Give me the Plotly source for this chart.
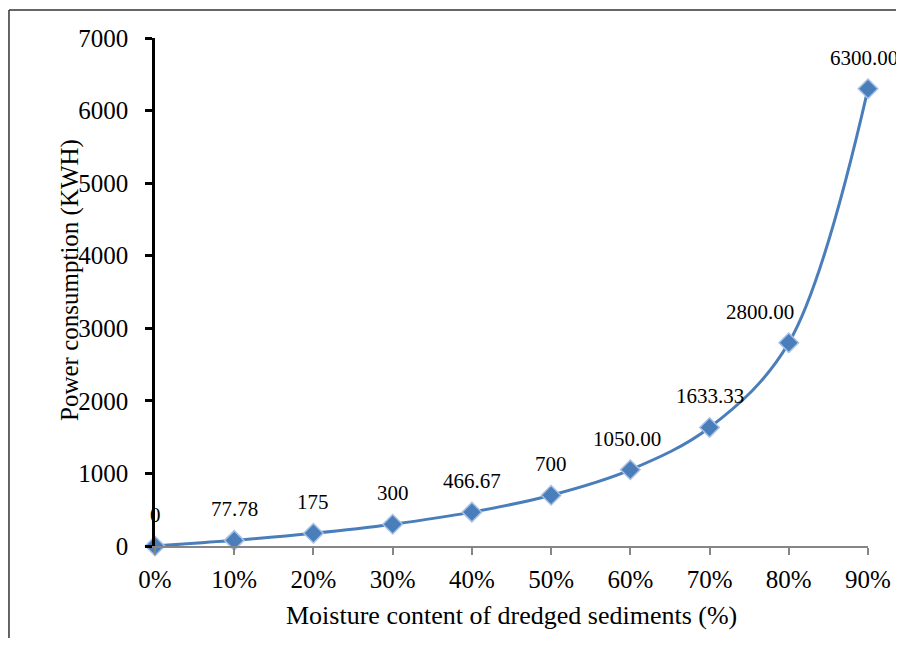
import plotly.graph_objects as go

categories = ["0%", "10%", "20%", "30%", "40%", "50%", "60%", "70%", "80%", "90%"]
moisture = [0, 10, 20, 30, 40, 50, 60, 70, 80, 90]
power_kwh = [0, 77.78, 175, 300, 466.67, 700, 1050.00, 1633.33, 2800.00, 6300.00]
value_labels = ["0", "77.78", "175", "300", "466.67", "700", "1050.00", "1633.33", "2800.00", "6300.00"]
y_ticks = [0, 1000, 2000, 3000, 4000, 5000, 6000, 7000]

label_xshift = [0, 0, 0, 0, 0, 0, -3, 0, -29, -4]

FONT = "Liberation Serif"

fig = go.Figure()
fig.add_trace(go.Scatter(
    x=moisture, y=power_kwh, mode="lines+markers",
    line=dict(color="#4A7EBB", width=3, shape="spline", smoothing=1.0),
    marker=dict(symbol="diamond", size=15, color="#4A7EBB",
                line=dict(color="#A7C0E3", width=1.5)),
    cliponaxis=False, showlegend=False,
))

for xv, yv, txt, dx in zip(moisture, power_kwh, value_labels, label_xshift):
    fig.add_annotation(x=xv, y=yv, text=txt, showarrow=False, yshift=31, xshift=dx,
                       xanchor="center", yanchor="middle",
                       font=dict(family=FONT, size=21, color="black"))

fig.add_annotation(xref="paper", yref="paper", x=-0.119, y=0.524, text="Power consumption (KWH)",
                   textangle=-90, showarrow=False, xanchor="center", yanchor="middle",
                   font=dict(family=FONT, size=25, color="black"))
fig.add_annotation(xref="paper", yref="paper", x=0.5, y=-0.136, text="Moisture content of dredged sediments (%)",
                   showarrow=False, xanchor="center", yanchor="middle",
                   font=dict(family=FONT, size=26, color="black"))

# outer frame (left and top edges visible in the crop)
fig.add_shape(type="line", xref="paper", yref="paper", x0=-0.2048, y0=-0.4, x1=-0.2048, y1=1.0551,
              line=dict(color="#333333", width=1.5), layer="below")
fig.add_shape(type="line", xref="paper", yref="paper", x0=-0.2048, y0=1.0551, x1=1.2, y1=1.0551,
              line=dict(color="#333333", width=1.5), layer="below")

fig.update_layout(
    width=896, height=630,
    margin=dict(l=147, r=36, t=30, b=92, autoexpand=False),
    paper_bgcolor="white", plot_bgcolor="white",
    font=dict(family=FONT, size=25, color="black"),
    xaxis=dict(range=[0, 90], tickvals=moisture, ticktext=categories, showgrid=False,
               zeroline=False, showline=True, linecolor="#868686", linewidth=2,
               ticks="outside", ticklen=7, tickwidth=2, tickcolor="#868686",
               ticklabelstandoff=3,
               tickfont=dict(family=FONT, size=25, color="black")),
    yaxis=dict(range=[0, 7000], tickvals=y_ticks, showgrid=False, zeroline=False,
               showline=True, linecolor="black", linewidth=2.5,
               ticks="outside", ticklen=7, tickwidth=2.5, tickcolor="black",
               ticklabelstandoff=12,
               tickfont=dict(family=FONT, size=25, color="black")),
)

fig.write_html("out.html")
